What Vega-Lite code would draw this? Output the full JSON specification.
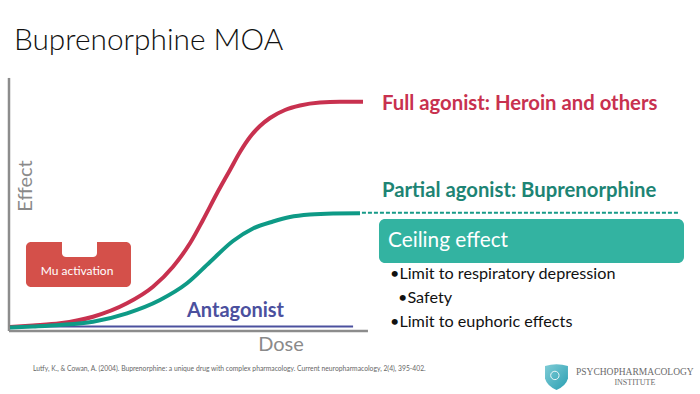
{
  "$schema": "https://vega.github.io/schema/vega-lite/v6.json",
  "width": 700,
  "height": 394,
  "padding": 0,
  "autosize": {"type": "fit", "contains": "padding"},
  "background": "white",
  "config": {"view": {"stroke": null}},
  "datasets": {
    "axes": [
      {"x": 0, "y": 0, "x2": 0, "y2": 110.5},
      {"x": 0, "y": 0, "x2": 101.4, "y2": 0}
    ],
    "antagonist": [
      {"series": "Antagonist", "x": 0.28, "y": 2.0},
      {"series": "Antagonist", "x": 97.2, "y": 2.0}
    ],
    "curves": [
      {"series": "Full agonist", "x": 0.28, "y": 1.75},
      {"series": "Full agonist", "x": 6.78, "y": 2.4},
      {"series": "Full agonist", "x": 14.41, "y": 3.36},
      {"series": "Full agonist", "x": 23.73, "y": 6.24},
      {"series": "Full agonist", "x": 33.33, "y": 12.1},
      {"series": "Full agonist", "x": 40.68, "y": 19.34},
      {"series": "Full agonist", "x": 46.33, "y": 28.08},
      {"series": "Full agonist", "x": 51.13, "y": 38.3},
      {"series": "Full agonist", "x": 54.8, "y": 48.47},
      {"series": "Full agonist", "x": 58.76, "y": 60.13},
      {"series": "Full agonist", "x": 62.43, "y": 70.31},
      {"series": "Full agonist", "x": 65.25, "y": 78.17},
      {"series": "Full agonist", "x": 68.08, "y": 84.72},
      {"series": "Full agonist", "x": 70.9, "y": 89.52},
      {"series": "Full agonist", "x": 73.73, "y": 93.01},
      {"series": "Full agonist", "x": 77.97, "y": 96.51},
      {"series": "Full agonist", "x": 82.2, "y": 98.47},
      {"series": "Full agonist", "x": 87.85, "y": 99.78},
      {"series": "Full agonist", "x": 93.5, "y": 100.1},
      {"series": "Full agonist", "x": 100.0, "y": 100.1},
      {"series": "Partial agonist", "x": 0.28, "y": 1.53},
      {"series": "Partial agonist", "x": 6.78, "y": 1.97},
      {"series": "Partial agonist", "x": 14.41, "y": 2.62},
      {"series": "Partial agonist", "x": 23.73, "y": 4.06},
      {"series": "Partial agonist", "x": 33.33, "y": 7.73},
      {"series": "Partial agonist", "x": 42.66, "y": 13.54},
      {"series": "Partial agonist", "x": 50.28, "y": 20.83},
      {"series": "Partial agonist", "x": 56.78, "y": 30.13},
      {"series": "Partial agonist", "x": 63.28, "y": 39.3},
      {"series": "Partial agonist", "x": 68.93, "y": 44.76},
      {"series": "Partial agonist", "x": 74.58, "y": 47.82},
      {"series": "Partial agonist", "x": 79.38, "y": 49.78},
      {"series": "Partial agonist", "x": 85.03, "y": 50.87},
      {"series": "Partial agonist", "x": 91.53, "y": 51.31},
      {"series": "Partial agonist", "x": 99.15, "y": 51.4}
    ],
    "ceilingLine": [{"x": 99.7, "y": 51.6, "x2": 189.0}],
    "muBox": [{"x": 4.8, "x2": 34.46, "y": 38.86, "y2": 19.21}],
    "muNotch": [{"x": 14.97, "x2": 24.86, "y": 40.0, "y2": 32.31}],
    "muLabel": [{"x": 19.21, "y": 26.2, "label": "Mu activation"}],
    "ceilBox": [{"x": 104.52, "x2": 190.68, "y": 48.91, "y2": 29.69}],
    "ceilLabel": [{"x": 107.06, "y": 36.68, "label": "Ceiling effect"}],
    "bullets": [
      {"x": 107.63, "y": 22.71, "label": "•Limit to respiratory depression"},
      {"x": 109.89, "y": 12.23, "label": "•Safety"},
      {"x": 107.63, "y": 1.75, "label": "•Limit to euphoric effects"}
    ],
    "fullLabel": [{"x": 105.37, "y": 96.51, "label": "Full agonist: Heroin and others"}],
    "partialLabel": [{"x": 105.37, "y": 58.52, "label": "Partial agonist: Buprenorphine"}],
    "antLabel": [{"x": 50.28, "y": 6.11, "label": "Antagonist"}],
    "title": [{"x": 1.41, "y": 122.7, "label": "Buprenorphine MOA"}],
    "effectLabel": [{"x": 4.9, "y": 63.3, "label": "Effect"}],
    "doseLabel": [{"x": 76.84, "y": -6.11, "label": "Dose"}],
    "footer": [{"x": 6.78, "y": -16.8, "label": "Lutfy, K., & Cowan, A. (2004). Buprenorphine: a unique drug with complex pharmacology. Current neuropharmacology, 2(4), 395-402."}],
    "logo": [{"x": 154.66, "y": -19.87}],
    "logoMark": [{"x": 154.2, "y": -19.4}],
    "logoName": [{"x": 160.17, "y": -17.9, "label": "PSYCHOPHARMACOLOGY"}],
    "logoSub": [{"x": 176.8, "y": -22.6, "label": "INSTITUTE"}]
  },
  "layer": [
    {
      "data": {"name": "axes"},
      "mark": {"type": "rule", "color": "#8C8C8C", "strokeWidth": 2.5},
      "encoding": {
        "x": {"field": "x", "type": "quantitative", "scale": {"domain": [-2.542, 195.2], "nice": false, "zero": false}, "axis": null},
        "y": {"field": "y", "type": "quantitative", "scale": {"domain": [-27.51, 144.54], "nice": false, "zero": false}, "axis": null},
        "x2": {"field": "x2"},
        "y2": {"field": "y2"}
      }
    },
    {
      "data": {"name": "antagonist"},
      "mark": {"type": "line", "color": "#4B509E", "strokeWidth": 2},
      "encoding": {
        "x": {"field": "x", "type": "quantitative", "scale": {"domain": [-2.542, 195.2], "nice": false, "zero": false}, "axis": null},
        "y": {"field": "y", "type": "quantitative", "scale": {"domain": [-27.51, 144.54], "nice": false, "zero": false}, "axis": null}
      }
    },
    {
      "data": {"name": "curves"},
      "mark": {"type": "line", "strokeWidth": 4, "interpolate": "monotone", "strokeCap": "butt"},
      "encoding": {
        "x": {"field": "x", "type": "quantitative", "scale": {"domain": [-2.542, 195.2], "nice": false, "zero": false}, "axis": null},
        "y": {"field": "y", "type": "quantitative", "scale": {"domain": [-27.51, 144.54], "nice": false, "zero": false}, "axis": null},
        "color": {"field": "series", "type": "nominal", "scale": {"domain": ["Full agonist", "Partial agonist"], "range": ["#C8314F", "#0E9A86"]}, "legend": null},
        "order": {"field": "x", "type": "quantitative"}
      }
    },
    {
      "data": {"name": "ceilingLine"},
      "mark": {"type": "rule", "color": "#169A88", "strokeWidth": 2, "strokeDash": [4, 2]},
      "encoding": {
        "x": {"field": "x", "type": "quantitative", "scale": {"domain": [-2.542, 195.2], "nice": false, "zero": false}, "axis": null},
        "y": {"field": "y", "type": "quantitative", "scale": {"domain": [-27.51, 144.54], "nice": false, "zero": false}, "axis": null},
        "x2": {"field": "x2"}
      }
    },
    {
      "data": {"name": "muBox"},
      "mark": {"type": "rect", "color": "#D4504A", "cornerRadius": 5},
      "encoding": {
        "x": {"field": "x", "type": "quantitative", "scale": {"domain": [-2.542, 195.2], "nice": false, "zero": false}, "axis": null},
        "y": {"field": "y", "type": "quantitative", "scale": {"domain": [-27.51, 144.54], "nice": false, "zero": false}, "axis": null},
        "x2": {"field": "x2"},
        "y2": {"field": "y2"}
      }
    },
    {
      "data": {"name": "muNotch"},
      "mark": {"type": "rect", "color": "white", "cornerRadiusBottomLeft": 4, "cornerRadiusBottomRight": 4},
      "encoding": {
        "x": {"field": "x", "type": "quantitative", "scale": {"domain": [-2.542, 195.2], "nice": false, "zero": false}, "axis": null},
        "y": {"field": "y", "type": "quantitative", "scale": {"domain": [-27.51, 144.54], "nice": false, "zero": false}, "axis": null},
        "x2": {"field": "x2"},
        "y2": {"field": "y2"}
      }
    },
    {
      "data": {"name": "muLabel"},
      "mark": {"type": "text", "color": "white", "font": "Lato", "fontSize": 12, "align": "center", "baseline": "middle"},
      "encoding": {
        "x": {"field": "x", "type": "quantitative", "scale": {"domain": [-2.542, 195.2], "nice": false, "zero": false}, "axis": null},
        "y": {"field": "y", "type": "quantitative", "scale": {"domain": [-27.51, 144.54], "nice": false, "zero": false}, "axis": null},
        "text": {"field": "label"}
      }
    },
    {
      "data": {"name": "ceilBox"},
      "mark": {"type": "rect", "color": "#33B3A1", "cornerRadius": 6},
      "encoding": {
        "x": {"field": "x", "type": "quantitative", "scale": {"domain": [-2.542, 195.2], "nice": false, "zero": false}, "axis": null},
        "y": {"field": "y", "type": "quantitative", "scale": {"domain": [-27.51, 144.54], "nice": false, "zero": false}, "axis": null},
        "x2": {"field": "x2"},
        "y2": {"field": "y2"}
      }
    },
    {
      "data": {"name": "ceilLabel"},
      "mark": {"type": "text", "color": "white", "font": "Lato", "fontSize": 20.8, "align": "left", "baseline": "alphabetic"},
      "encoding": {
        "x": {"field": "x", "type": "quantitative", "scale": {"domain": [-2.542, 195.2], "nice": false, "zero": false}, "axis": null},
        "y": {"field": "y", "type": "quantitative", "scale": {"domain": [-27.51, 144.54], "nice": false, "zero": false}, "axis": null},
        "text": {"field": "label"}
      }
    },
    {
      "data": {"name": "bullets"},
      "mark": {"type": "text", "color": "#111111", "font": "Lato", "fontSize": 16.2, "align": "left", "baseline": "alphabetic"},
      "encoding": {
        "x": {"field": "x", "type": "quantitative", "scale": {"domain": [-2.542, 195.2], "nice": false, "zero": false}, "axis": null},
        "y": {"field": "y", "type": "quantitative", "scale": {"domain": [-27.51, 144.54], "nice": false, "zero": false}, "axis": null},
        "text": {"field": "label"}
      }
    },
    {
      "data": {"name": "fullLabel"},
      "mark": {"type": "text", "color": "#C8314F", "font": "Lato", "fontWeight": "bold", "fontSize": 20.3, "align": "left", "baseline": "alphabetic"},
      "encoding": {
        "x": {"field": "x", "type": "quantitative", "scale": {"domain": [-2.542, 195.2], "nice": false, "zero": false}, "axis": null},
        "y": {"field": "y", "type": "quantitative", "scale": {"domain": [-27.51, 144.54], "nice": false, "zero": false}, "axis": null},
        "text": {"field": "label"}
      }
    },
    {
      "data": {"name": "partialLabel"},
      "mark": {"type": "text", "color": "#1D8474", "font": "Lato", "fontWeight": "bold", "fontSize": 20.3, "align": "left", "baseline": "alphabetic"},
      "encoding": {
        "x": {"field": "x", "type": "quantitative", "scale": {"domain": [-2.542, 195.2], "nice": false, "zero": false}, "axis": null},
        "y": {"field": "y", "type": "quantitative", "scale": {"domain": [-27.51, 144.54], "nice": false, "zero": false}, "axis": null},
        "text": {"field": "label"}
      }
    },
    {
      "data": {"name": "antLabel"},
      "mark": {"type": "text", "color": "#4B509E", "font": "Lato", "fontWeight": "bold", "fontSize": 20, "align": "left", "baseline": "alphabetic"},
      "encoding": {
        "x": {"field": "x", "type": "quantitative", "scale": {"domain": [-2.542, 195.2], "nice": false, "zero": false}, "axis": null},
        "y": {"field": "y", "type": "quantitative", "scale": {"domain": [-27.51, 144.54], "nice": false, "zero": false}, "axis": null},
        "text": {"field": "label"}
      }
    },
    {
      "data": {"name": "title"},
      "mark": {"type": "text", "color": "#111111", "font": "Lato", "fontWeight": 300, "fontSize": 29.8, "align": "left", "baseline": "alphabetic"},
      "encoding": {
        "x": {"field": "x", "type": "quantitative", "scale": {"domain": [-2.542, 195.2], "nice": false, "zero": false}, "axis": null},
        "y": {"field": "y", "type": "quantitative", "scale": {"domain": [-27.51, 144.54], "nice": false, "zero": false}, "axis": null},
        "text": {"field": "label"}
      }
    },
    {
      "data": {"name": "effectLabel"},
      "mark": {"type": "text", "color": "#8A8A8A", "font": "Lato", "fontSize": 20, "angle": 270, "align": "center", "baseline": "middle"},
      "encoding": {
        "x": {"field": "x", "type": "quantitative", "scale": {"domain": [-2.542, 195.2], "nice": false, "zero": false}, "axis": null},
        "y": {"field": "y", "type": "quantitative", "scale": {"domain": [-27.51, 144.54], "nice": false, "zero": false}, "axis": null},
        "text": {"field": "label"}
      }
    },
    {
      "data": {"name": "doseLabel"},
      "mark": {"type": "text", "color": "#8A8A8A", "font": "Lato", "fontSize": 20, "align": "center", "baseline": "middle"},
      "encoding": {
        "x": {"field": "x", "type": "quantitative", "scale": {"domain": [-2.542, 195.2], "nice": false, "zero": false}, "axis": null},
        "y": {"field": "y", "type": "quantitative", "scale": {"domain": [-27.51, 144.54], "nice": false, "zero": false}, "axis": null},
        "text": {"field": "label"}
      }
    },
    {
      "data": {"name": "footer"},
      "mark": {"type": "text", "color": "#666666", "font": "Lato", "fontSize": 6.75, "align": "left", "baseline": "middle"},
      "encoding": {
        "x": {"field": "x", "type": "quantitative", "scale": {"domain": [-2.542, 195.2], "nice": false, "zero": false}, "axis": null},
        "y": {"field": "y", "type": "quantitative", "scale": {"domain": [-27.51, 144.54], "nice": false, "zero": false}, "axis": null},
        "text": {"field": "label"}
      }
    },
    {
      "data": {"name": "logo"},
      "mark": {"type": "point", "filled": true, "opacity": 1, "size": 729, "shape": "M-0.85,-0.78 Q0,-1.05 0.85,-0.78 L0.85,0.15 Q0.7,0.7 0,1 Q-0.7,0.7 -0.85,0.15 Z",
        "color": {"gradient": "linear", "x1": 0, "y1": 0, "x2": 1, "y2": 1, "stops": [{"offset": 0, "color": "#7FCCD6"}, {"offset": 1, "color": "#2A9FB2"}]}},
      "encoding": {
        "x": {"field": "x", "type": "quantitative", "scale": {"domain": [-2.542, 195.2], "nice": false, "zero": false}, "axis": null},
        "y": {"field": "y", "type": "quantitative", "scale": {"domain": [-27.51, 144.54], "nice": false, "zero": false}, "axis": null}
      }
    },
    {
      "data": {"name": "logoMark"},
      "mark": {"type": "point", "filled": false, "color": "white", "strokeWidth": 1, "opacity": 0.9, "size": 70, "shape": "circle"},
      "encoding": {
        "x": {"field": "x", "type": "quantitative", "scale": {"domain": [-2.542, 195.2], "nice": false, "zero": false}, "axis": null},
        "y": {"field": "y", "type": "quantitative", "scale": {"domain": [-27.51, 144.54], "nice": false, "zero": false}, "axis": null}
      }
    },
    {
      "data": {"name": "logoName"},
      "mark": {"type": "text", "color": "#6B6B6B", "font": "Liberation Serif", "fontSize": 9.5, "align": "left", "baseline": "middle"},
      "encoding": {
        "x": {"field": "x", "type": "quantitative", "scale": {"domain": [-2.542, 195.2], "nice": false, "zero": false}, "axis": null},
        "y": {"field": "y", "type": "quantitative", "scale": {"domain": [-27.51, 144.54], "nice": false, "zero": false}, "axis": null},
        "text": {"field": "label"}
      }
    },
    {
      "data": {"name": "logoSub"},
      "mark": {"type": "text", "color": "#6B6B6B", "font": "Liberation Serif", "fontSize": 8, "align": "center", "baseline": "middle"},
      "encoding": {
        "x": {"field": "x", "type": "quantitative", "scale": {"domain": [-2.542, 195.2], "nice": false, "zero": false}, "axis": null},
        "y": {"field": "y", "type": "quantitative", "scale": {"domain": [-27.51, 144.54], "nice": false, "zero": false}, "axis": null},
        "text": {"field": "label"}
      }
    }
  ]
}
